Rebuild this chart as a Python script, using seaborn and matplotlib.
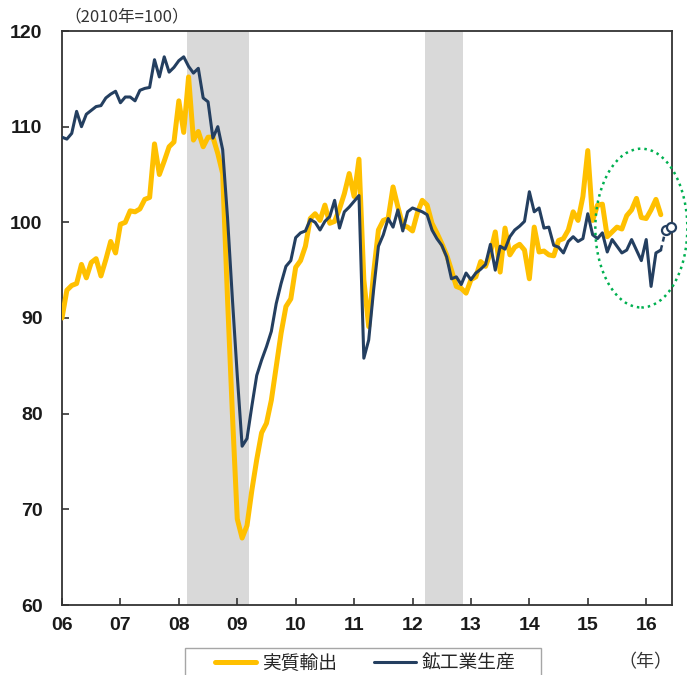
import numpy as np
import pandas as pd
import matplotlib
matplotlib.use("Agg")
import matplotlib.pyplot as plt
from matplotlib.patches import Ellipse, Rectangle
import seaborn as sns

# 月次データ（2006年1月〜2016年4月）、2010年=100
exports = [
    90.0, 92.9, 93.4, 93.6, 95.6, 94.2, 95.8, 96.2, 94.4, 96.1, 98.0, 96.8,          # 2006
    99.8, 100.0, 101.2, 101.1, 101.4, 102.4, 102.6, 108.2, 105.0, 106.4, 107.9, 108.4,  # 2007
    112.7, 109.4, 115.2, 108.6, 109.5, 107.9, 108.9, 108.9, 107.2, 105.1, 92.0, 80.0,   # 2008
    69.0, 67.0, 68.3, 72.0, 75.2, 78.0, 79.0, 81.4, 84.9, 88.4, 91.2, 92.0,             # 2009
    95.3, 96.0, 97.5, 100.4, 100.9, 100.2, 101.8, 99.9, 100.1, 101.4, 103.0, 105.1,     # 2010
    102.7, 106.6, 94.0, 89.1, 94.7, 99.2, 100.2, 100.4, 103.7, 101.6, 99.7, 99.5,       # 2011
    99.1, 101.0, 102.3, 101.8, 99.9, 98.9, 97.8, 96.6, 95.0, 93.3, 93.1, 92.6,          # 2012
    94.0, 94.3, 95.9, 95.4, 96.8, 99.0, 94.8, 99.4, 96.6, 97.4, 97.7, 97.1,             # 2013
    94.1, 99.5, 96.9, 97.0, 96.6, 96.5, 98.1, 98.3, 99.2, 101.1, 100.2, 102.7,          # 2014
    107.5, 100.2, 101.8, 101.9, 98.5, 99.0, 99.5, 99.3, 100.7, 101.3, 102.5, 100.5,     # 2015
    100.4, 101.3, 102.4, 100.8,                                                         # 2016
]
production = [
    108.9, 108.7, 109.3, 111.6, 110.0, 111.3, 111.7, 112.1, 112.2, 113.0, 113.4, 113.7,  # 2006
    112.5, 113.1, 113.1, 112.7, 113.8, 114.0, 114.1, 117.0, 115.2, 117.3, 115.7, 116.2,  # 2007
    116.9, 117.3, 116.3, 115.6, 116.1, 113.0, 112.6, 108.8, 110.0, 107.6, 100.5, 92.0,   # 2008
    84.0, 76.6, 77.4, 80.8, 84.0, 85.6, 87.0, 88.6, 91.5, 93.6, 95.4, 96.0,             # 2009
    98.4, 98.9, 99.1, 100.3, 100.0, 99.2, 100.1, 100.6, 102.3, 99.4, 101.1, 101.6,      # 2010
    102.2, 102.8, 85.8, 87.7, 92.9, 97.5, 98.7, 100.4, 99.5, 101.3, 99.1, 101.1,        # 2011
    101.5, 101.3, 101.1, 100.8, 99.2, 98.3, 97.6, 96.4, 94.1, 94.3, 93.5, 94.7,         # 2012
    94.0, 94.7, 95.1, 95.6, 97.7, 95.0, 97.5, 97.2, 98.5, 99.2, 99.6, 100.1,            # 2013
    103.2, 101.1, 101.5, 99.4, 99.5, 97.6, 97.4, 96.8, 98.0, 98.5, 98.0, 98.3,          # 2014
    100.9, 98.7, 98.3, 98.9, 96.9, 98.2, 97.5, 96.8, 97.1, 98.2, 97.1, 96.0,            # 2015
    98.2, 93.3, 96.8, 97.1,                                                             # 2016
]
# 製造工業生産予測（2016年4月実績→5月、6月予測）
forecast = [97.1, 99.2, 99.5]

year_labels = ["06", "07", "08", "09", "10", "11", "12", "13", "14", "15", "16"]
# 景気後退期（月インデックス）
recessions = [(25.6, 38.4), (74.6, 82.4)]

YELLOW = "#FFC000"
NAVY = "#243F60"

df_exp = pd.DataFrame({"month": np.arange(len(exports)), "value": exports})
df_prod = pd.DataFrame({"month": np.arange(len(production)), "value": production})
df_fc = pd.DataFrame({"month": np.arange(len(production) - 1, len(production) - 1 + len(forecast)),
                      "value": forecast})

sns.set_style("white")
plt.rcParams["font.family"] = ["Liberation Sans", "Noto Sans CJK JP", "DejaVu Sans"]

fig = plt.figure(figsize=(6.87, 6.75), dpi=100)
ax = fig.add_axes([62 / 687, 1 - 605 / 675, 610 / 687, 574 / 675])

for start, end in recessions:
    ax.axvspan(start, end, color="#D9D9D9", lw=0, zorder=0)

sns.lineplot(data=df_exp, x="month", y="value", color=YELLOW, lw=3.6, ax=ax,
             label="実質輸出", zorder=3)
sns.lineplot(data=df_prod, x="month", y="value", color=NAVY, lw=2.2, ax=ax,
             label="鉱工業生産", zorder=4)
sns.lineplot(data=df_fc, x="month", y="value", color=NAVY, lw=1.8, ax=ax,
             linestyle=(0, (2.0, 1.5)), legend=False, zorder=4)
ax.plot(df_fc["month"][1:], df_fc["value"][1:], "o", ms=6.5, mfc="white",
        mec=NAVY, mew=1.6, zorder=5, clip_on=False)

# 注目部分の楕円
ax.add_patch(Ellipse((119.0, 99.4), 18.9, 16.6, fill=False, ec="#00B050",
                     lw=1.8, ls=(0, (1, 1.6)), clip_on=False, zorder=6))

ax.set_xlim(0, 125.3)
ax.set_ylim(60, 120)
ax.set_xticks(np.arange(0, 121, 12))
ax.set_xticklabels(year_labels)
ax.set_yticks(np.arange(60, 121, 10))
ax.set_xlabel("")
ax.set_ylabel("")

for s in ax.spines.values():
    s.set_color("#333333")
    s.set_linewidth(1.3)
ax.tick_params(axis="both", direction="in", length=5, width=1.2, color="#333333",
               labelsize=14, top=False, right=False, bottom=True, left=True)
ax.tick_params(axis="y", pad=14)
ax.tick_params(axis="x", pad=9)
for lab in ax.get_xticklabels() + ax.get_yticklabels():
    lab.set_fontweight("bold")
    lab.set_color("#1a1a1a")

fig.text(64 / 687, 1 - 17 / 675, "（2010年=100）", fontsize=12, color="#333333",
         ha="left", va="center", family=["Noto Sans CJK JP", "DejaVu Sans"])
fig.text(645 / 687, 1 - 662 / 675, "（年）", fontsize=13, color="#333333",
         ha="center", va="center", family=["Noto Sans CJK JP", "DejaVu Sans"])

# 凡例
fig.patches.append(Rectangle((185 / 687, -0.02), 356 / 687, 0.02 + 1 - 648 / 675,
                             transform=fig.transFigure, fill=False, ec="#A6A6A6",
                             lw=1.0, clip_on=False))
handles, labels = ax.get_legend_handles_labels()
ax.legend(handles, labels, loc="center", bbox_to_anchor=(365 / 687, 1 - 663 / 675),
          bbox_transform=fig.transFigure, ncol=2, frameon=False,
          prop={"family": ["Noto Sans CJK JP"], "size": 13.5},
          handlelength=2.2, handletextpad=0.3, columnspacing=2.0)

fig.savefig("out.png", dpi=100)
